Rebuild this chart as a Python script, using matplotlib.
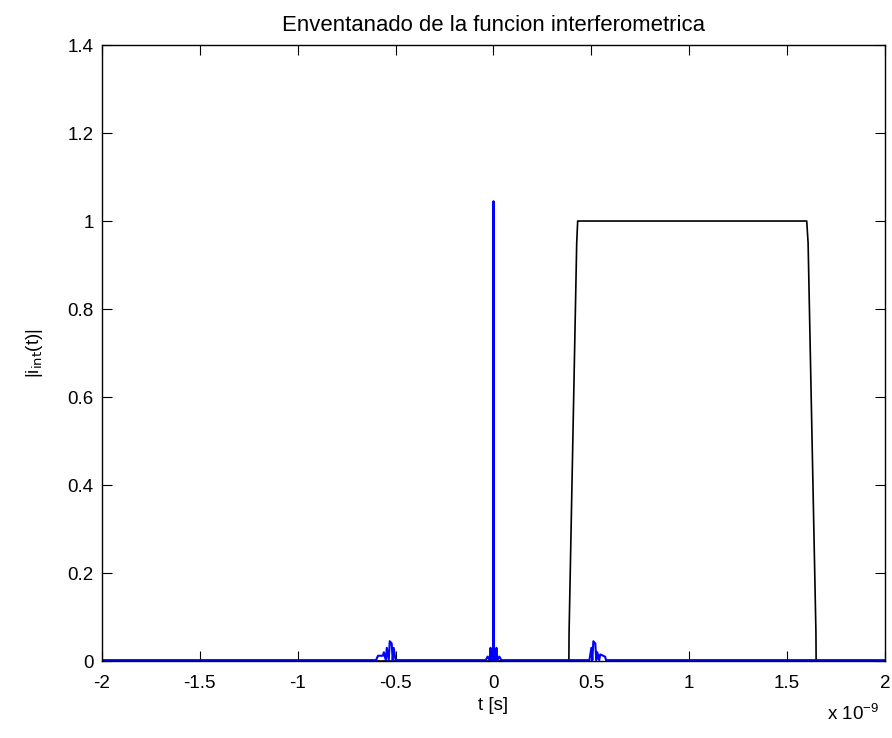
#!/usr/bin/env python3
"""Windowing of the interferometric function (MATLAB-style figure)."""

import matplotlib
matplotlib.use("Agg")
import matplotlib.pyplot as plt

# time axis in units of 1e-9 s (offset shown as "x 10^-9")
# blue: |i_int(t)|
blue_t = [-2.0, -0.60, -0.59, -0.565, -0.56, -0.55, -0.545, -0.535, -0.53,
          -0.52, -0.515, -0.51, -0.50,
          -0.04, -0.03, -0.02, -0.015, -0.01, -0.002, 0.0, 0.002, 0.01,
          0.015, 0.02, 0.03, 0.04,
          0.49, 0.50, 0.505, 0.51, 0.52, 0.525, 0.53, 0.54, 0.545, 0.57,
          0.575, 2.0]
blue_y = [0.002, 0.002, 0.012, 0.012, 0.02, 0.002, 0.03, 0.002, 0.045,
          0.04, 0.002, 0.03, 0.002,
          0.002, 0.01, 0.002, 0.03, 0.002, 0.002, 1.045, 0.002, 0.002,
          0.03, 0.002, 0.01, 0.002,
          0.002, 0.03, 0.002, 0.045, 0.04, 0.002, 0.02, 0.002, 0.015, 0.01,
          0.002, 0.002]

# black: window function
win_t = [-2.0, 0.385, 0.386, 0.425, 0.43, 1.600, 1.607, 1.647, 1.648, 2.0]
win_y = [0.0, 0.0, 0.064, 0.95, 1.0, 1.0, 0.95, 0.064, 0.0, 0.0]

x_ticks = [-2, -1.5, -1, -0.5, 0, 0.5, 1, 1.5, 2]
x_ticklabels = ["-2", "-1.5", "-1", "-0.5", "0", "0.5", "1", "1.5", "2"]
y_ticks = [0, 0.2, 0.4, 0.6, 0.8, 1, 1.2, 1.4]
y_ticklabels = ["0", "0.2", "0.4", "0.6", "0.8", "1", "1.2", "1.4"]

plt.rcParams.update({
    "font.family": ["Liberation Sans", "DejaVu Sans"],
    "font.size": 13.5,
    "xtick.direction": "in",
    "ytick.direction": "in",
    "xtick.top": True,
    "ytick.right": True,
    "xtick.major.size": 7,
    "ytick.major.size": 7,
    "axes.linewidth": 1.0,
})

fig = plt.figure(figsize=(8.92, 7.38), dpi=100)
ax = fig.add_axes([0.1143, 0.1043, 0.8779, 0.8347])

ax.plot(win_t, win_y, color="black", lw=1.2)
ax.plot(blue_t, blue_y, color="#0000ff", lw=1.5)

ax.set_xlim(-2, 2)
ax.set_ylim(0, 1.4)
ax.set_xticks(x_ticks)
ax.set_xticklabels(x_ticklabels)
ax.set_yticks(y_ticks)
ax.set_yticklabels(y_ticklabels)
ax.tick_params(axis="x", pad=10)
ax.tick_params(axis="y", pad=6)

ax.set_title("Enventanado de la funcion interferometrica", pad=10, fontsize=15.9)
ax.set_xlabel("t [s]", labelpad=4)
ax.set_ylabel(r"|i$_{\mathrm{int}}$(t)|", labelpad=16)
fig.text(0.927, 0.024, r"x 10$^{\mathregular{-9}}$", fontsize=13.5)

fig.savefig("out.png", dpi=100, facecolor="white")
